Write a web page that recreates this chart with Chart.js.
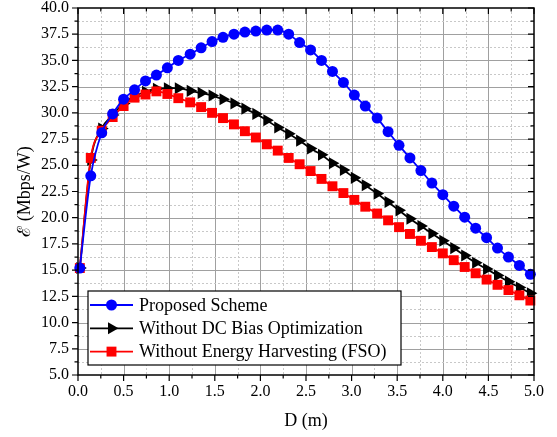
<!DOCTYPE html>
<html><head><meta charset="utf-8">
<script src="https://cdn.jsdelivr.net/npm/chart.js@4.4.1/dist/chart.umd.min.js"></script>
<style>html,body{margin:0;padding:0;background:#fff;}</style>
</head><body>
<canvas id="c" width="557" height="437" style="display:block;width:557px;height:437px"></canvas>
<script>
// ---- data ----
const distances = [0.02, 0.14, 0.26, 0.38, 0.50, 0.62, 0.74, 0.86, 0.98, 1.10,
  1.23, 1.35, 1.47, 1.59, 1.71, 1.83, 1.95, 2.07, 2.19, 2.31,
  2.43, 2.55, 2.67, 2.79, 2.91, 3.03, 3.15, 3.28, 3.40, 3.52,
  3.64, 3.76, 3.88, 4.00, 4.12, 4.24, 4.36, 4.48, 4.60, 4.72,
  4.84, 4.96];
const proposedScheme = [15.2, 24.0, 28.1, 29.9, 31.3, 32.2, 33.05, 33.6, 34.3, 35.0,
  35.6, 36.2, 36.8, 37.2, 37.5, 37.7, 37.8, 37.9, 37.9, 37.5,
  36.7, 36.0, 35.0, 33.95, 32.9, 31.7, 30.65, 29.5, 28.2, 26.9,
  25.7, 24.5, 23.3, 22.2, 21.1, 20.05, 19.0, 18.1, 17.1, 16.25,
  15.45, 14.6];
const withoutDCBias = [15.2, 25.5, 28.5, 29.8, 30.9, 31.6, 32.0, 32.3, 32.35, 32.35,
  32.1, 31.9, 31.65, 31.3, 30.9, 30.4, 29.9, 29.3, 28.6, 28.0,
  27.35, 26.6, 26.0, 25.2, 24.55, 23.8, 23.1, 22.3, 21.5, 20.7,
  19.9, 19.2, 18.5, 17.8, 17.1, 16.4, 15.7, 15.1, 14.5, 13.9,
  13.35, 12.8];
const withoutEnergyHarvesting = [15.2, 25.7, 28.3, 29.6, 30.65, 31.45, 31.75, 32.05, 31.8, 31.4,
  31.0, 30.55, 30.0, 29.5, 28.9, 28.25, 27.65, 27.0, 26.4, 25.7,
  25.1, 24.45, 23.7, 23.0, 22.35, 21.7, 21.05, 20.4, 19.75, 19.1,
  18.45, 17.8, 17.2, 16.6, 15.95, 15.3, 14.7, 14.1, 13.6, 13.1,
  12.6, 12.1];
const seriesLabels = ['Proposed Scheme', 'Without DC Bias Optimization', 'Without Energy Harvesting (FSO)'];
const xTickValues = [0, 0.25, 0.5, 0.75, 1, 1.25, 1.5, 1.75, 2, 2.25, 2.5, 2.75, 3, 3.25, 3.5, 3.75, 4, 4.25, 4.5, 4.75, 5];
const xTickLabels = ['0.0', '0.5', '1.0', '1.5', '2.0', '2.5', '3.0', '3.5', '4.0', '4.5', '5.0'];
const yTickValues = [5, 6.25, 7.5, 8.75, 10, 11.25, 12.5, 13.75, 15, 16.25, 17.5, 18.75, 20, 21.25, 22.5, 23.75, 25, 26.25, 27.5, 28.75, 30, 31.25, 32.5, 33.75, 35, 36.25, 37.5, 38.75, 40];
const yTickLabels = ['5.0', '7.5', '10.0', '12.5', '15.0', '17.5', '20.0', '22.5', '25.0', '27.5', '30.0', '32.5', '35.0', '37.5', '40.0'];

const SERIF = "'Liberation Serif', 'Times New Roman', serif";
const pts = (ys) => distances.map((x, i) => ({x: x, y: ys[i]}));
const labelFor = (v, labels) => { const m = labels.find(l => Math.abs(parseFloat(l) - v) < 1e-6); return m || ''; };
const isMajor = (v, labels) => labels.some(l => Math.abs(parseFloat(l) - v) < 1e-6);

const styles = [
  {color: '#0000ff', pointStyle: 'circle', radius: 5.5, rotation: 0},
  {color: '#000000', pointStyle: 'triangle', radius: 7, rotation: 90},
  {color: '#ff0000', pointStyle: 'rect', radius: 7, rotation: 0}
];
const seriesData = [proposedScheme, withoutDCBias, withoutEnergyHarvesting];
const orders = [0, 2, 1];

const datasets = seriesData.map((d, i) => ({
  label: seriesLabels[i],
  data: pts(d),
  borderColor: styles[i].color,
  backgroundColor: styles[i].color,
  borderWidth: 1.8,
  pointStyle: styles[i].pointStyle,
  pointRadius: styles[i].radius,
  pointRotation: styles[i].rotation,
  pointBorderWidth: 0,
  pointBackgroundColor: styles[i].color,
  cubicInterpolationMode: 'monotone',
  order: orders[i],
  clip: 8
}));

function drawMarker(ctx, style, cx, cy) {
  ctx.fillStyle = style.color;
  ctx.beginPath();
  if (style.pointStyle === 'circle') {
    ctx.arc(cx, cy, style.radius, 0, Math.PI * 2);
  } else if (style.pointStyle === 'triangle') {
    const r = style.radius;
    ctx.moveTo(cx + r, cy);
    ctx.lineTo(cx - r / 2, cy - r * 0.866);
    ctx.lineTo(cx - r / 2, cy + r * 0.866);
    ctx.closePath();
  } else {
    const s = style.radius * Math.SQRT1_2;
    ctx.rect(cx - s, cy - s, 2 * s, 2 * s);
  }
  ctx.fill();
}

const framePlugin = {
  id: 'frame',
  beforeDatasetsDraw(chart) {
    const {ctx, chartArea: a, scales: {x, y}} = chart;
    ctx.save();
    ctx.lineWidth = 1;
    x.ticks.forEach(t => {
      const px = Math.round(x.getPixelForValue(t.value)) + 0.5;
      if (px <= a.left + 1 || px >= a.right - 1) return;
      const major = isMajor(t.value, xTickLabels);
      ctx.strokeStyle = major ? '#a0a0a0' : '#c8c8c8';
      ctx.setLineDash(major ? [] : [2, 2]);
      ctx.beginPath(); ctx.moveTo(px, a.top); ctx.lineTo(px, a.bottom); ctx.stroke();
    });
    y.ticks.forEach(t => {
      const py = Math.round(y.getPixelForValue(t.value)) + 0.5;
      if (py <= a.top + 1 || py >= a.bottom - 1) return;
      const major = isMajor(t.value, yTickLabels);
      ctx.strokeStyle = major ? '#a0a0a0' : '#c8c8c8';
      ctx.setLineDash(major ? [] : [2, 2]);
      ctx.beginPath(); ctx.moveTo(a.left, py); ctx.lineTo(a.right, py); ctx.stroke();
    });
    ctx.restore();
  },
  afterDatasetsDraw(chart) {
    const {ctx, chartArea: a, scales: {x, y}} = chart;
    ctx.save();
    ctx.setLineDash([]);
    ctx.strokeStyle = '#000';
    ctx.lineWidth = 1.5;
    ctx.strokeRect(a.left, a.top, a.right - a.left, a.bottom - a.top);
    ctx.lineWidth = 1.2;
    x.ticks.forEach(t => {
      const px = x.getPixelForValue(t.value);
      const len = isMajor(t.value, xTickLabels) ? 6 : 3.5;
      ctx.beginPath();
      ctx.moveTo(px, a.bottom); ctx.lineTo(px, a.bottom + len);
      ctx.moveTo(px, a.top); ctx.lineTo(px, a.top + len);
      ctx.stroke();
    });
    y.ticks.forEach(t => {
      const py = y.getPixelForValue(t.value);
      const len = isMajor(t.value, yTickLabels) ? 6 : 3.5;
      ctx.beginPath();
      ctx.moveTo(a.left, py); ctx.lineTo(a.left - len, py);
      ctx.moveTo(a.right, py); ctx.lineTo(a.right - len, py);
      ctx.stroke();
    });
    ctx.restore();
  },
  afterDraw(chart) {
    const {ctx, chartArea: a} = chart;
    const bx = a.left + 10, bw = 313, bh = 74;
    const by = a.bottom - 10 - bh;
    ctx.save();
    ctx.fillStyle = '#fff';
    ctx.fillRect(bx, by, bw, bh);
    ctx.strokeStyle = '#000';
    ctx.lineWidth = 1.2;
    ctx.strokeRect(bx, by, bw, bh);
    ctx.font = '18px ' + SERIF;
    ctx.textBaseline = 'middle';
    ctx.textAlign = 'left';
    [0, 1, 2].forEach((i, row) => {
      const cy = by + 14 + row * 23.3;
      ctx.strokeStyle = styles[i].color;
      ctx.lineWidth = 1.8;
      ctx.beginPath(); ctx.moveTo(bx + 2, cy); ctx.lineTo(bx + 45, cy); ctx.stroke();
      drawMarker(ctx, styles[i], bx + 23.5, cy);
      ctx.fillStyle = '#000';
      ctx.fillText(seriesLabels[i], bx + 51, cy + 1);
    });
    ctx.restore();
  }
};

new Chart(document.getElementById('c'), {
  type: 'line',
  data: {datasets: datasets},
  plugins: [framePlugin],
  options: {
    responsive: false,
    animation: false,
    devicePixelRatio: 1,
    layout: {padding: {left: 0, top: 8, right: 23, bottom: 0}},
    plugins: {legend: {display: false}, tooltip: {enabled: false}},
    elements: {line: {tension: 0}},
    scales: {
      x: {
        type: 'linear', min: 0, max: 5,
        afterBuildTicks: s => { s.ticks = xTickValues.map(v => ({value: v})); },
        ticks: {autoSkip: false, maxRotation: 0, padding: 9, color: '#000',
          font: {family: SERIF, size: 16, lineHeight: 1},
          callback: v => labelFor(v, xTickLabels)},
        grid: {display: false, drawTicks: false, tickLength: 0},
        border: {display: false},
        title: {display: true, text: 'D (m)', color: '#000',
          font: {family: SERIF, size: 18, lineHeight: 1.2}, padding: {top: 0, bottom: 5}},
        afterFit: s => { s.height = 62; s.paddingLeft = 0; s.paddingRight = 0; }
      },
      y: {
        type: 'linear', min: 5, max: 40,
        afterBuildTicks: s => { s.ticks = yTickValues.map(v => ({value: v})); },
        ticks: {autoSkip: false, padding: 9, color: '#000',
          font: {family: SERIF, size: 16, lineHeight: 1},
          callback: v => labelFor(v, yTickLabels)},
        grid: {display: false, drawTicks: false, tickLength: 0},
        border: {display: false},
        title: {display: true, text: 'ℰ (Mbps/W)', color: '#000',
          font: {family: SERIF, size: 18, lineHeight: 1.2}, padding: {top: 14, bottom: 0}},
        afterFit: s => { s.width = 78; s.paddingTop = 0; s.paddingBottom = 0; }
      }
    }
  }
});
</script>
</body></html>
